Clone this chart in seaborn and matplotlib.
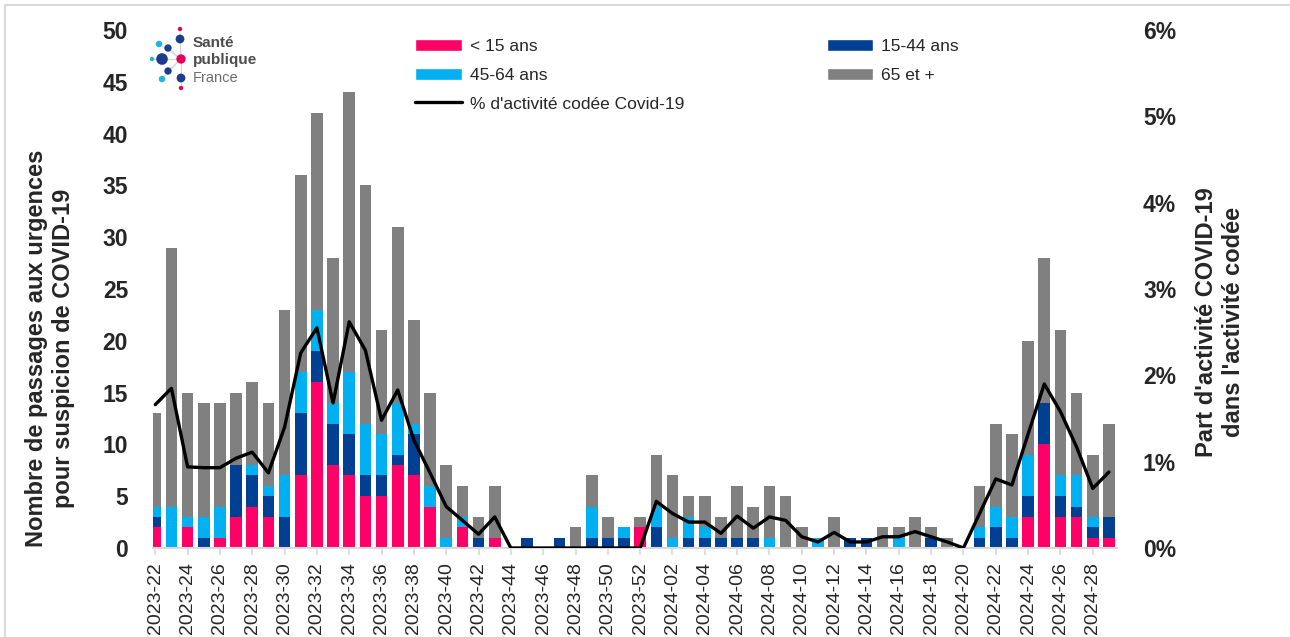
import numpy as np
import pandas as pd
import matplotlib
matplotlib.use("Agg")
import matplotlib.pyplot as plt
import seaborn as sns
from matplotlib import font_manager
from matplotlib.patches import Patch
from matplotlib.lines import Line2D

# ── Data ─────────────────────────────────────────────────────────────────────

weeks = [f"2023-{w:02d}" for w in range(22, 53)] + [f"2024-{w:02d}" for w in range(1, 30)]

moins_15 = [2, 0, 2, 0, 1, 3, 4, 3, 0, 7, 16, 8, 7, 5, 5, 8, 7, 4, 0, 2,
            0, 1, 0, 0, 0, 0, 0, 0, 0, 0, 2, 0, 0, 0, 0, 0, 0, 0, 0, 0,
            0, 0, 0, 0, 0, 0, 0, 0, 0, 0, 0, 0, 0, 0, 3, 10, 3, 3, 1, 1]
ans_15_44 = [1, 0, 0, 1, 0, 5, 3, 2, 3, 6, 3, 4, 4, 2, 2, 1, 4, 0, 0, 0,
             1, 0, 0, 1, 0, 1, 0, 1, 1, 1, 0, 2, 0, 1, 1, 1, 1, 1, 0, 0,
             0, 0, 0, 1, 1, 0, 0, 0, 1, 0, 0, 1, 2, 1, 2, 4, 2, 1, 1, 2]
ans_45_64 = [1, 4, 1, 2, 3, 0, 1, 1, 4, 4, 4, 2, 6, 5, 4, 5, 1, 2, 1, 1,
             0, 0, 0, 0, 0, 0, 0, 3, 0, 1, 0, 2, 1, 2, 1, 0, 0, 0, 1, 0,
             0, 1, 0, 0, 0, 0, 1, 0, 0, 0, 0, 1, 2, 2, 4, 0, 2, 3, 1, 0]
ans_65_plus = [9, 25, 12, 11, 10, 7, 8, 8, 16, 19, 19, 14, 27, 23, 10, 17, 10, 9, 7, 3,
               2, 5, 0, 0, 0, 0, 2, 3, 2, 0, 1, 5, 6, 2, 3, 2, 5, 3, 5, 5,
               2, 0, 3, 0, 0, 2, 1, 3, 1, 1, 0, 4, 8, 8, 11, 14, 14, 8, 6, 9]
pct_covid = [1.66, 1.85, 0.94, 0.93, 0.93, 1.04, 1.11, 0.87, 1.40, 2.26,
             2.55, 1.68, 2.62, 2.29, 1.48, 1.83, 1.25, 0.87, 0.48, 0.32,
             0.16, 0.36, 0.0, 0.0, 0.0, 0.0, 0.0, 0.0, 0.0, 0.0,
             0.0, 0.54, 0.40, 0.30, 0.30, 0.17, 0.37, 0.23, 0.36, 0.32,
             0.13, 0.07, 0.18, 0.07, 0.07, 0.13, 0.13, 0.19, 0.13, 0.07,
             0.0, 0.40, 0.80, 0.73, 1.32, 1.90, 1.58, 1.17, 0.69, 0.88]

series_labels = ["< 15 ans", "15-44 ans", "45-64 ans", "65 et +"]
series_colors = ["#FF0066", "#003F91", "#00B0F0", "#808080"]
line_label = "% d'activité codée Covid-19"

# ── Style ────────────────────────────────────────────────────────────────────

sns.set_theme(style="white")
installed = {f.name for f in font_manager.fontManager.ttflist}
FONT = "Liberation Sans Narrow" if "Liberation Sans Narrow" in installed else "Liberation Sans"
plt.rcParams["font.family"] = [FONT, "DejaVu Sans"]

df = pd.DataFrame({
    "week": weeks,
    "lt15": moins_15,
    "a15": ans_15_44,
    "a45": ans_45_64,
    "a65": ans_65_plus,
    "pct": np.array(pct_covid) / 100,
})
# cumulative heights, drawn from the tallest layer down
df["c1"] = df["lt15"]
df["c2"] = df["c1"] + df["a15"]
df["c3"] = df["c2"] + df["a45"]
df["c4"] = df["c3"] + df["a65"]

W, H = 1290, 637
fig = plt.figure(figsize=(W / 100, H / 100), dpi=100)
ax = fig.add_axes([153 / W, (H - 548) / H, 964 / W, 518 / H])

for col, color in zip(["c4", "c3", "c2", "c1"], series_colors[::-1]):
    sns.barplot(data=df, x="week", y=col, color=color, saturation=1,
                width=0.72, linewidth=0, ax=ax)

ax2 = ax.twinx()
sns.lineplot(x=np.arange(len(weeks)), y=df["pct"], color="black",
             linewidth=2.4, ax=ax2)

ax.set_xlim(-0.14, 59.5)
ax.set_ylim(0, 50)
ax2.set_ylim(0, 0.06)
ax.set_yticks(np.arange(0, 51, 5))
ax2.set_yticks(np.arange(0, 0.061, 0.01))
ax2.set_yticklabels([f"{i}%" for i in range(7)])
ax.set_xticks(np.arange(0, len(weeks), 2))
ax.set_xticklabels(weeks[::2], rotation=90, fontsize=14)
ax.set_xlabel("")
ax.set_ylabel("")
ax2.set_ylabel("")

for a in (ax, ax2):
    for s in a.spines.values():
        s.set_visible(False)
ax.spines["bottom"].set_visible(True)
ax.spines["bottom"].set_color("#d9d9d9")
ax.spines["bottom"].set_linewidth(1.5)
ax.tick_params(axis="x", bottom=True, length=5, width=1.2, color="#d9d9d9", pad=5)
ax.tick_params(axis="y", left=False, length=0, pad=18)
ax2.tick_params(axis="y", right=False, length=0, pad=18.7)
for lab in ax.get_yticklabels() + ax2.get_yticklabels():
    lab.set_fontsize(16.5)
    lab.set_fontweight("bold")

fig.text(50 / W, 1 - 348 / H, "Nombre de passages aux urgences\npour suspicion de COVID-19",
         rotation=90, ha="center", va="center", multialignment="center",
         fontsize=17, fontweight="bold", linespacing=1.25)
fig.text(1220 / W, 1 - 322 / H, "Part d'activité COVID-19\ndans l'activité codée",
         rotation=90, ha="center", va="center", multialignment="center",
         fontsize=17, fontweight="bold", linespacing=1.25)

# ── Legend ───────────────────────────────────────────────────────────────────

patches = [Patch(facecolor=c, label=l) for c, l in zip(series_colors, series_labels)]
line_h = Line2D([], [], color="black", linewidth=2.4, label=line_label)
handles = [patches[0], patches[2], line_h, patches[1], patches[3]]
fig.legend(handles=handles, loc="upper left", bbox_to_anchor=(415 / W, 1 - 39 / H),
           ncol=2, frameon=False, fontsize=12.5, borderpad=0, borderaxespad=0,
           handlelength=2.7, handleheight=0.7, handletextpad=0.46,
           labelspacing=0.78, columnspacing=8.2)

# ── Logo ─────────────────────────────────────────────────────────────────────

lg = fig.add_axes([145 / W, 1 - 95 / H, 140 / W, 75 / H])
lg.set_xlim(145, 285)
lg.set_ylim(95, 20)
lg.axis("off")
nodes = [(180, 29, "#E5005A", 10), (180, 39, "#1D3C8F", 40), (159, 44, "#1FB4E6", 22),
         (168, 48, "#1D3C8F", 28), (152, 59, "#1FB4E6", 10), (162, 59, "#1D3C8F", 70),
         (181, 59, "#E5005A", 45), (168, 71, "#1D3C8F", 28), (162, 79, "#1FB4E6", 22),
         (181, 78, "#1D3C8F", 40), (181, 88, "#E5005A", 10)]
for x, y, c, s in nodes:
    lg.plot([x, 181], [y, 59], color="#d0d0d0", linewidth=0.6, zorder=1)
lg.scatter([n[0] for n in nodes], [n[1] for n in nodes], c=[n[2] for n in nodes],
           s=[n[3] for n in nodes], zorder=2, linewidths=0)
lg.text(193, 43, "Santé", fontsize=11, fontweight="bold", color="#4d4d4d",
        va="center", family=["Liberation Sans", "DejaVu Sans"])
lg.text(193, 60, "publique", fontsize=11, fontweight="bold", color="#4d4d4d",
        va="center", family=["Liberation Sans", "DejaVu Sans"])
lg.text(193, 78, "France", fontsize=10.5, color="#6d6d6d",
        va="center", family=["Liberation Sans", "DejaVu Sans"])

# frame around the figure
fig.add_artist(Line2D([5 / W, 1], [1 - 5 / H, 1 - 5 / H], color="#d9d9d9", linewidth=1.5))
fig.add_artist(Line2D([5 / W, 5 / W], [0, 1 - 5 / H], color="#d9d9d9", linewidth=1.5))

fig.savefig("out.png", dpi=100)
plt.close()
